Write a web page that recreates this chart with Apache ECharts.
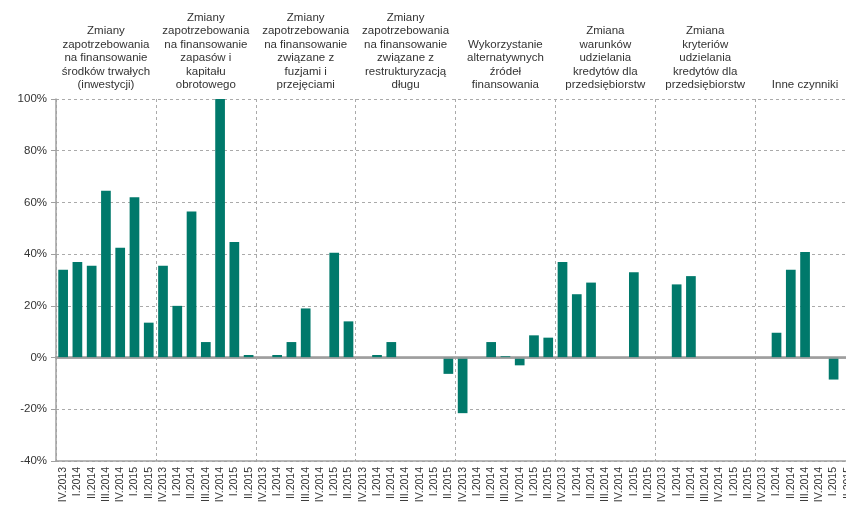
<!DOCTYPE html>
<html>
<head>
<meta charset="utf-8">
<script src="https://cdn.jsdelivr.net/npm/echarts@6/dist/echarts.min.js"></script>
<style>html,body{margin:0;padding:0;background:#fff;}#c{width:846px;height:512px;}</style>
</head>
<body>
<div id="c"></div>
<script>
var quarters = ['IV.2013', 'I.2014', 'II.2014', 'III.2014', 'IV.2014', 'I.2015', 'II.2015'];
var groupTitles = [
  'Zmiany\nzapotrzebowania\nna finansowanie\nśrodków trwałych\n(inwestycji)',
  'Zmiany\nzapotrzebowania\nna finansowanie\nzapasów i\nkapitału\nobrotowego',
  'Zmiany\nzapotrzebowania\nna finansowanie\nzwiązane z\nfuzjami i\nprzejęciami',
  'Zmiany\nzapotrzebowania\nna finansowanie\nzwiązane z\nrestrukturyzacją\ndługu',
  'Wykorzystanie\nalternatywnych\nźródeł\nfinansowania',
  'Zmiana\nwarunków\nudzielania\nkredytów dla\nprzedsiębiorstw',
  'Zmiana\nkryteriów\nudzielania\nkredytów dla\nprzedsiębiorstw',
  'Inne czynniki'
];
var g1 = [34, 37, 35.5, 64.5, 42.5, 62, 13.5];
var g2 = [35.5, 20, 56.5, 6, 100, 44.7, 1];
var g3 = [0, 1, 6, 19, 0, 40.5, 14];
var g4 = [0, 1, 6, 0, 0, 0, -6.3];
var g5 = [-21.5, 0, 6, 0.5, -3, 8.6, 7.7];
var g6 = [37, 24.5, 29, 0, 0, 33, 0];
var g7 = [0, 28.3, 31.5, 0, 0, 0, 0];
var g8 = [0, 9.6, 34, 40.8, 0, -8.5, 0];
var yTicks = [-40, -20, 0, 20, 40, 60, 80, 100];

var groups = [g1, g2, g3, g4, g5, g6, g7, g8];
var categories = [];
var values = [];
groups.forEach(function (g) {
  quarters.forEach(function (q, i) { categories.push(q); values.push(g[i]); });
});

var FONT = "'Liberation Sans', Arial, sans-serif";
var chart = echarts.init(document.getElementById('c'), null, {renderer: 'canvas'});
chart.setOption({
  animation: false,
  backgroundColor: '#fff',
  grid: {left: 56, right: -9, top: 99, bottom: 51, containLabel: false, outerBoundsMode: 'none'},
  xAxis: [{
    type: 'category',
    data: categories,
    position: 'bottom',
    axisLine: {show: true, onZero: false, lineStyle: {color: '#a0a0a0', width: 1.5}},
    axisTick: {show: false},
    splitLine: {show: false},
    axisLabel: {rotate: 90, interval: 0, margin: 6, fontSize: 10.5, color: '#333', fontFamily: FONT}
  }, {
    type: 'category',
    data: groupTitles,
    position: 'top',
    axisLine: {show: true, lineStyle: {color: '#999', width: 2.5}},
    axisTick: {show: false},
    splitLine: {show: true, interval: 0, lineStyle: {color: '#aaa', type: [3, 3], width: 1}},
    axisLabel: {interval: 0, margin: 7, fontSize: 11.5, lineHeight: 13.5, color: '#333', fontFamily: FONT, align: 'center'}
  }],
  yAxis: {
    type: 'value',
    min: yTicks[0],
    max: yTicks[yTicks.length - 1],
    interval: 20,
    axisLine: {show: true, lineStyle: {color: '#a0a0a0', width: 1.5}},
    axisTick: {show: true, length: 5, lineStyle: {color: '#a0a0a0'}},
    splitLine: {show: true, lineStyle: {color: '#aaa', type: [3, 3], width: 1}},
    axisLabel: {formatter: '{value}%', margin: 9, fontSize: 11.5, color: '#333', fontFamily: FONT}
  },
  series: [{
    type: 'bar',
    xAxisIndex: 0,
    data: values,
    barWidth: '68%',
    itemStyle: {color: '#00796b'},
    markLine: {
      silent: true,
      symbol: 'none',
      label: {show: false},
      lineStyle: {color: '#a0a0a0', type: 'solid', width: 1.5},
      data: [{yAxis: 0}]
    }
  }]
});
</script>
</body>
</html>
